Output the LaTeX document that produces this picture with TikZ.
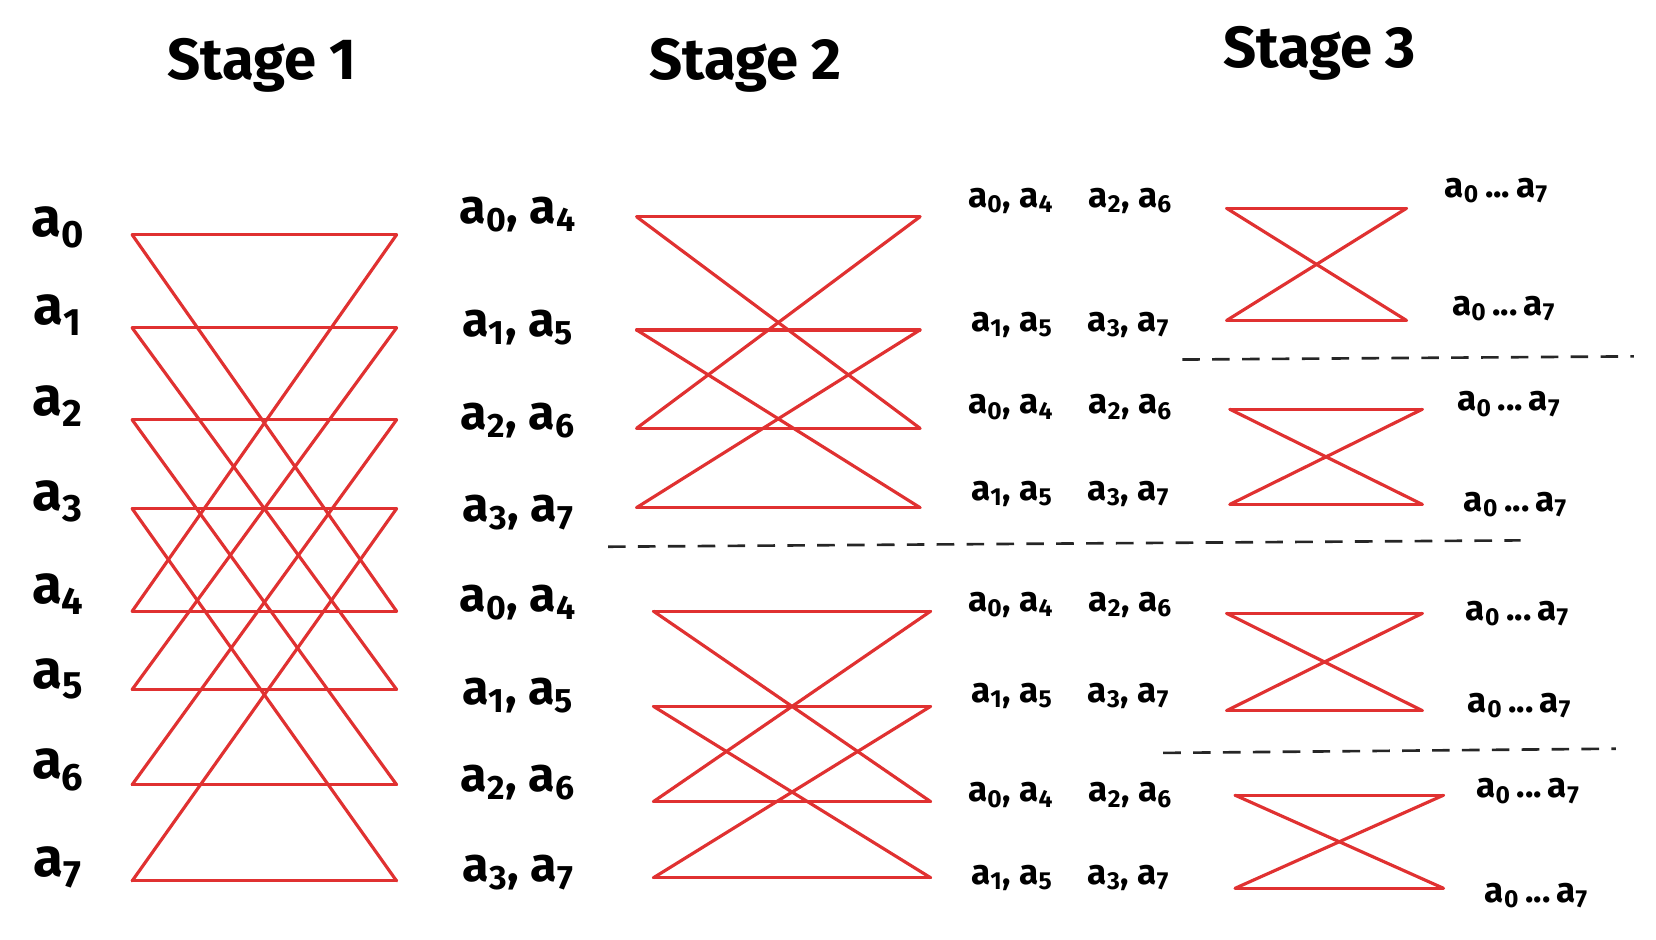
\documentclass[tikz,border=0pt]{standalone}
\usepackage{fontspec}
\setmainfont{Fira Sans}
\newcommand{\sub}[1]{a\textsubscript{#1}}
\begin{document}
\begin{tikzpicture}[x=0.02115cm,y=-0.02115cm,
  red line/.style={draw={rgb,255:red,224;green,49;blue,49},line width=1.8pt,line cap=round,line join=round},
  sep line/.style={draw=black!85,line width=1.5pt,dash pattern=on 10pt off 7pt},
  big/.style={font=\fontsize{31}{32}\selectfont\bfseries},
  mid/.style={font=\fontsize{27.5}{29}\selectfont\bfseries},
  small/.style={font=\fontsize{20}{21}\selectfont\bfseries},
  title/.style={font=\fontsize{33}{34}\selectfont\bfseries}]
\useasboundingbox (0,0) rectangle (1566,888);
\clip (0,0) rectangle (1566,888);
% titles
\node[title] (t1) at (248,62) {Stage 1};
\node[title] (t2) at (705,62) {Stage 2};
\node[title] (t3) at (1248,50) {Stage 3};
% stage 1
\foreach \i/\y/\ly in {0/222/215,1/310/298,2/397/384,3/481/474,4/578/562,5/652/642,6/742/728,7/833/820}{
  \node[big] (s1l\i) at (55,\ly) {\sub{\i}};
  \coordinate (A\i) at (125,\y);
  \coordinate (B\i) at (375,\y);
  \draw[red line] (A\i) -- (B\i);
}
\foreach \i/\j in {0/4,1/5,2/6,3/7,4/0,5/1,6/2,7/3}{\draw[red line] (A\i) -- (B\j);}
% stage 2 left labels
\foreach \n/\a/\b/\y in {0/0/4/203,1/1/5/310,2/2/6/398,3/3/7/485,4/0/4/570,5/1/5/658,6/2/6/740,7/3/7/825}{
  \node[mid] (s2l\n) at (490,\y) {\sub{\a}, \sub{\b}};
}
\foreach \i/\y in {0/205,1/312,2/405,3/480}{
  \coordinate (C\i) at (602,\y); \coordinate (D\i) at (870,\y);
  \draw[red line] (C\i) -- (D\i);}
\foreach \i/\y in {4/578,5/668,6/758,7/830}{
  \coordinate (C\i) at (618,\y); \coordinate (D\i) at (880,\y);
  \draw[red line] (C\i) -- (D\i);}
\foreach \i/\j in {0/2,2/0,1/3,3/1,4/6,6/4,5/7,7/5}{\draw[red line] (C\i) -- (D\j);}
\coordinate (p1) at (575,517); \coordinate (p2) at (1438,511);
\draw[sep line] (p1) -- (p2);
% stage 2 right labels
\foreach \n/\y in {0/190,1/307,2/385,3/467,4/572,5/658,6/752,7/830}{
  \pgfmathtruncatemacro{\o}{mod(\n,2)}
  \ifnum\o=0
    \node[small] (s3l\n) at (1012,\y) {\sub{0}, \sub{4}\quad \sub{2}, \sub{6}};
  \else
    \node[small] (s3l\n) at (1012,\y) {\sub{1}, \sub{5}\quad \sub{3}, \sub{7}};
  \fi
}
% stage 3
\foreach \g/\ya/\yb/\xl/\xr in {0/197/303/1160/1330,1/387/477/1163/1345,2/580/672/1160/1345,3/752/840/1168/1365}{
  \coordinate (E\g a) at (\xl,\ya); \coordinate (F\g a) at (\xr,\ya);
  \coordinate (E\g b) at (\xl,\yb); \coordinate (F\g b) at (\xr,\yb);
  \draw[red line] (E\g a) -- (F\g a);
  \draw[red line] (E\g b) -- (F\g b);
  \draw[red line] (E\g a) -- (F\g b);
  \draw[red line] (E\g b) -- (F\g a);
}
\foreach \n/\x/\y in {0/1415/180,1/1422/292,2/1427/382,3/1433/477,4/1435/580,5/1437/667,6/1445/748,7/1453/847}{
  \node[small] (r\n) at (\x,\y) {\sub{0}\,...\,\sub{7}};
}
\coordinate (q1) at (1118,340); \coordinate (q2) at (1545,337);
\coordinate (q3) at (1100,712); \coordinate (q4) at (1528,708);
\draw[sep line] (q1) -- (q2);
\draw[sep line] (q3) -- (q4);
\end{tikzpicture}
\end{document}
